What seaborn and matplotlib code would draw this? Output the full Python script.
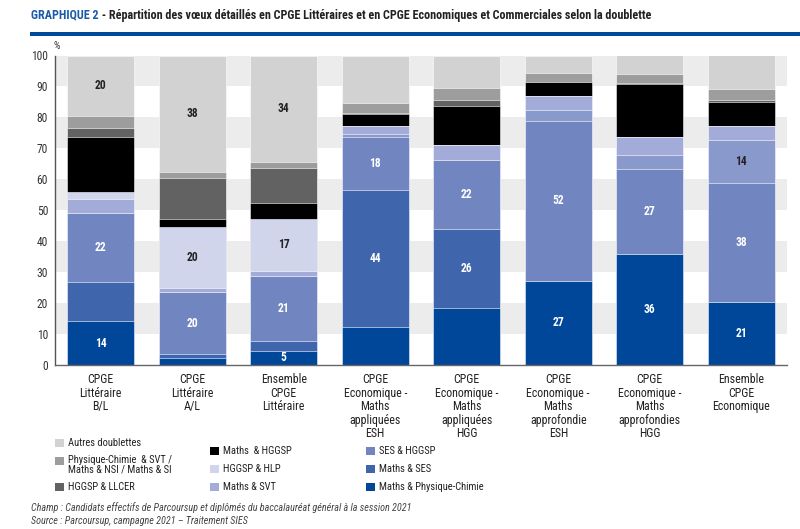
import matplotlib
matplotlib.use("Agg")
import matplotlib.pyplot as plt
from matplotlib import font_manager
from matplotlib.patches import Rectangle
import numpy as np
import pandas as pd
import seaborn as sns

# ---------------- data ----------------
categories = [
    "CPGE\nLittéraire\nB/L",
    "CPGE\nLittéraire\nA/L",
    "Ensemble\nCPGE\nLittéraire",
    "CPGE\nEconomique -\nMaths\nappliquées\nESH",
    "CPGE\nEconomique -\nMaths\nappliquées\nHGG",
    "CPGE\nEconomique -\nMaths\napprofondie\nESH",
    "CPGE\nEconomique -\nMaths\napprofondies\nHGG",
    "Ensemble\nCPGE\nEconomique",
]

# stacked from bottom to top (%)
maths_pc    = [14.2, 2.4, 4.6, 12.4, 18.3, 27.2, 36.0, 20.5]
maths_ses   = [12.5, 1.0, 3.2, 44.0, 25.7, 0.0, 0.0, 0.0]
ses_hggsp   = [22.5, 20.3, 20.8, 17.4, 22.3, 51.7, 27.4, 38.4]
unlabelled  = [0.0, 0.0, 0.0, 0.8, 0.0, 3.5, 4.5, 13.8]
maths_svt   = [4.4, 1.2, 1.9, 2.7, 4.8, 4.4, 5.7, 4.4]
hggsp_hlp   = [2.3, 19.8, 16.6, 0.0, 0.0, 0.0, 0.0, 0.0]
maths_hggsp = [17.7, 2.5, 5.3, 3.7, 12.7, 4.6, 17.1, 8.0]
hggsp_llcer = [3.1, 13.1, 11.1, 0.3, 1.8, 0.1, 0.3, 0.6]
pc_svt      = [3.6, 1.9, 2.2, 3.3, 3.8, 2.7, 2.9, 3.4]
autres      = [19.7, 37.8, 34.3, 15.4, 10.6, 5.8, 6.1, 10.9]

# value labels printed inside segments
maths_pc_lbl   = ["14", "", "5", "", "", "27", "36", "21"]
maths_ses_lbl  = ["", "", "", "44", "26", "", "", ""]
ses_hggsp_lbl  = ["22", "20", "21", "18", "22", "52", "27", "38"]
unlabelled_lbl = ["", "", "", "", "", "", "", "14"]
hggsp_hlp_lbl  = ["", "20", "17", "", "", "", "", ""]
autres_lbl     = ["20", "38", "34", "", "", "", "", ""]
empty_lbl      = [""] * 8

series_names = [
    "Maths & Physique-Chimie", "Maths & SES", "SES & HGGSP", "(non légendé)",
    "Maths & SVT", "HGGSP & HLP", "Maths  & HGGSP", "HGGSP & LLCER",
    "Physique-Chimie  & SVT /\nMaths & NSI / Maths & SI", "Autres doublettes",
]
series_values = [maths_pc, maths_ses, ses_hggsp, unlabelled, maths_svt,
                 hggsp_hlp, maths_hggsp, hggsp_llcer, pc_svt, autres]
series_labels = [maths_pc_lbl, maths_ses_lbl, ses_hggsp_lbl, unlabelled_lbl,
                 empty_lbl, hggsp_hlp_lbl, empty_lbl, empty_lbl, empty_lbl, autres_lbl]
series_colors = ["#00479a", "#3f65ad", "#7185c1", "#8a99cc", "#a3acd9",
                 "#d0d5ec", "#000000", "#626262", "#9d9d9d", "#d2d2d2"]
label_colors  = ["white", "white", "white", "#222222", "white",
                 "#222222", "white", "white", "#222222", "#222222"]

# ---------------- style ----------------
sns.set_theme(style="white")
avail = {f.name for f in font_manager.fontManager.ttflist}
narrow = [f for f in ["Liberation Sans Narrow", "Roboto Condensed", "DejaVu Sans"] if f in avail]
plt.rcParams["font.family"] = narrow + ["DejaVu Sans"]

fig = plt.figure(figsize=(8.0, 5.29), dpi=100)
W, H = 800, 529
ax = fig.add_axes([55 / W, 1 - 365 / H, (787 - 55) / W, (365 - 55.5) / H])

# alternating background bands
for lo in range(10, 100, 20):
    ax.axhspan(lo, lo + 10, color="#ececec", zorder=0, lw=0)

# stacked bars via cumulative overlay with seaborn
vals = np.array(series_values)
cum = np.cumsum(vals, axis=0)
for k in range(len(series_values) - 1, -1, -1):
    df = pd.DataFrame({"cat": categories, "val": cum[k]})
    sns.barplot(data=df, x="cat", y="val", color=series_colors[k], saturation=1,
                width=0.73, errorbar=None, ax=ax, edgecolor="white", linewidth=0.4,
                zorder=2)

# segment labels
for k in range(len(series_values)):
    for i in range(len(categories)):
        t = series_labels[k][i]
        if t:
            ymid = cum[k][i] - vals[k][i] / 2
            ax.text(i, ymid, t, ha="center", va="center", fontsize=8.3,
                    fontweight="bold", color=label_colors[k], zorder=5)

ax.set_xlim(-0.5, len(categories) - 0.5)
ax.set_ylim(0, 100)
ax.set_yticks(range(0, 101, 10))
ax.set_xlabel("")
ax.set_ylabel("")
ax.tick_params(axis="y", length=0, pad=5, labelsize=8.3, labelcolor="#333333")
ax.tick_params(axis="x", length=0, pad=6, labelsize=8.6, labelcolor="#222222")
ax.set_xticks(range(len(categories)))
ax.set_xticklabels(categories, linespacing=1.05)
for s in ["top", "right"]:
    ax.spines[s].set_visible(False)
ax.spines["left"].set_color("#555555")
ax.spines["bottom"].set_color("#666666")
ax.spines["left"].set_linewidth(1)
ax.spines["bottom"].set_linewidth(1)

fig.text(53 / W, 1 - 46 / H, "%", fontsize=7.5, color="#333333", ha="left", va="center")

# ---------------- title ----------------
t1 = fig.text(31 / W, 1 - 15 / H, "GRAPHIQUE 2", fontsize=8.7, fontweight="bold",
              color="#1a5aa6", ha="left", va="center")
fig.canvas.draw()
bb = t1.get_window_extent(renderer=fig.canvas.get_renderer())
fig.text(bb.x1 / W, 1 - 15 / H,
         " - Répartition des vœux détaillés en CPGE Littéraires et en CPGE Economiques et Commerciales selon la doublette",
         fontsize=8.7, fontweight="bold", color="#222222", ha="left", va="center")
fig.add_artist(Rectangle((30 / W, 1 - 36 / H), 770 / W, 4 / H,
                         transform=fig.transFigure, color="#004a99", lw=0))

# ---------------- legend (manual, 3 columns) ----------------
legend_layout = [
    # (series index, x_square, y_square_center, y_text_center)
    (9, 55, 443, 443), (8, 55, 461, 465), (7, 55, 487, 487),
    (6, 210, 451, 451), (5, 210, 469, 469), (4, 210, 487, 487),
    (2, 366, 451, 451), (1, 366, 469, 469), (0, 366, 487, 487),
]
for k, xs, ys, yt in legend_layout:
    sw, sh = 9, 8
    fig.add_artist(Rectangle((xs / W, 1 - (ys + sh / 2) / H), sw / W, sh / H,
                             transform=fig.transFigure, color=series_colors[k], lw=0))
    fig.text((xs + 13) / W, 1 - yt / H, series_names[k],
             fontsize=7.6, color="#222222", ha="left", va="center", linespacing=0.95)

# ---------------- footer ----------------
fig.text(31 / W, 1 - 508 / H,
         "Champ : Candidats effectifs de Parcoursup et diplômés du baccalauréat général à la session 2021",
         fontsize=7.3, style="italic", color="#444444", ha="left", va="center")
fig.text(31 / W, 1 - 521 / H, "Source : Parcoursup, campagne 2021 – Traitement SIES",
         fontsize=7.3, style="italic", color="#444444", ha="left", va="center")

fig.savefig("out.png", dpi=100)
